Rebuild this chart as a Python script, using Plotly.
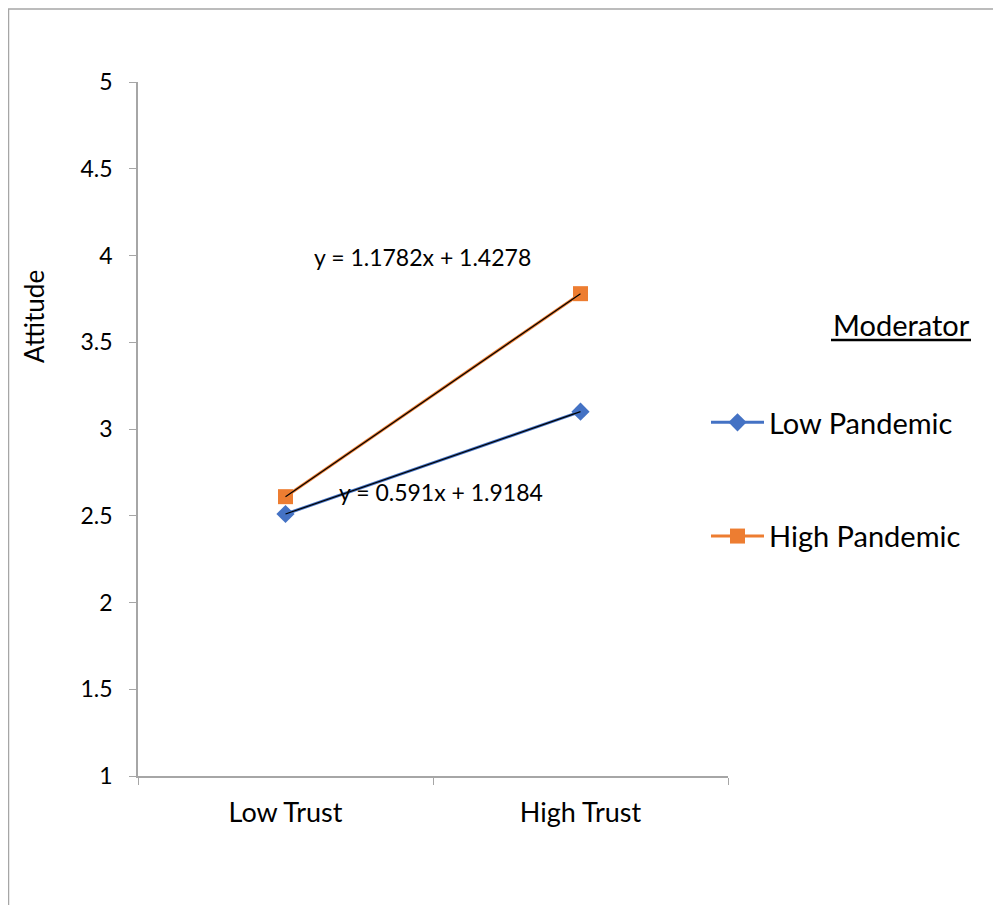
import numpy as np
import plotly.graph_objects as go

categories = ["Low Trust", "High Trust"]
low_pandemic = [2.51, 3.10]
high_pandemic = [2.61, 3.78]
series_names = ["Low Pandemic", "High Pandemic"]
y_ticks = [1, 1.5, 2, 2.5, 3, 3.5, 4, 4.5, 5]
eq_texts = ["y = 1.1782x + 1.4278", "y = 0.591x + 1.9184"]

FONT = "Lato"
OFF = 8  # page body margin
W, H = 993, 897
L, T = 130, 74
PW, PH = 590, 694
R, B = W - L - PW, H - T - PH


def px_x(p):
    return (p - OFF - L) / PW


def px_y(p):
    return (H - B - (p - OFF)) / PH


fig = go.Figure()
fig.add_trace(go.Scatter(
    x=categories, y=low_pandemic, name=series_names[0], mode="lines+markers",
    line=dict(color="#4472C4", width=3),
    marker=dict(symbol="diamond", size=14, color="#4472C4"),
    legendgroup="a"))
fig.add_trace(go.Scatter(
    x=categories, y=high_pandemic, name=series_names[1], mode="lines+markers",
    line=dict(color="#ED7D31", width=3),
    marker=dict(symbol="square", size=15, color="#ED7D31"),
    legendgroup="b"))

# linear trendlines (Excel style, x = 1, 2)
xs = np.arange(1, len(categories) + 1)
for ys in (high_pandemic, low_pandemic):
    m, c = np.polyfit(xs, ys, 1)
    fit = m * xs + c
    fig.add_trace(go.Scatter(x=categories, y=fit, mode="lines",
                             line=dict(color="black", width=1.2),
                             showlegend=False, hoverinfo="skip"))

fig.add_annotation(text=eq_texts[0], xref="paper", yref="paper",
                   x=px_x(422), y=px_y(257), xanchor="center", yanchor="middle",
                   showarrow=False,
                   font=dict(family=FONT, size=23, color="black"))
fig.add_annotation(text=eq_texts[1], xref="paper", yref="paper",
                   x=px_x(441), y=px_y(492), xanchor="center", yanchor="middle",
                   showarrow=False,
                   font=dict(family=FONT, size=23, color="black"))

fig.add_annotation(text="Attitude", xref="paper", yref="paper",
                   x=px_x(34), y=px_y(317), xanchor="center", yanchor="middle",
                   showarrow=False, textangle=-90,
                   font=dict(family=FONT, size=26, color="black"))

fig.add_annotation(text="Moderator", xref="paper", yref="paper",
                   x=px_x(901), y=px_y(324), xanchor="center", yanchor="middle",
                   showarrow=False,
                   font=dict(family=FONT, size=29, color="black"))
fig.add_shape(type="line", xref="paper", yref="paper",
              x0=px_x(831), x1=px_x(971), y0=px_y(340), y1=px_y(340),
              line=dict(color="black", width=2.5))

# chart border
fig.add_shape(type="rect", xref="paper", yref="paper",
              x0=px_x(8.5), x1=px_x(1020), y0=px_y(930), y1=px_y(9),
              line=dict(color="#A6A6A6", width=1.5), layer="below")

fig.update_layout(
    width=W, height=H,
    margin=dict(l=L, r=R, t=T, b=B),
    paper_bgcolor="white", plot_bgcolor="white",
    font=dict(family=FONT, size=22, color="black"),
    legend=dict(x=px_x(706), y=px_y(397), xanchor="left", yanchor="top",
                font=dict(family=FONT, size=29, color="black"),
                tracegroupgap=73, itemwidth=53, bgcolor="rgba(0,0,0,0)"),
    xaxis=dict(type="category", tickson="boundaries", ticks="outside",
               ticklen=7, tickcolor="#A6A6A6", showline=True,
               linecolor="#A6A6A6", linewidth=1.5, showgrid=False,
               zeroline=False, range=[-0.5, 1.5], ticklabelstandoff=12,
               tickfont=dict(family=FONT, size=27, color="black")),
    yaxis=dict(range=[1, 5], tickvals=y_ticks, ticks="outside", ticklen=7,
               tickcolor="#A6A6A6", showline=True, linecolor="#A6A6A6",
               linewidth=1.5, showgrid=False, zeroline=False,
               ticklabelstandoff=12,
               tickfont=dict(family=FONT, size=23, color="black")),
)

fig.write_html("out.html")
